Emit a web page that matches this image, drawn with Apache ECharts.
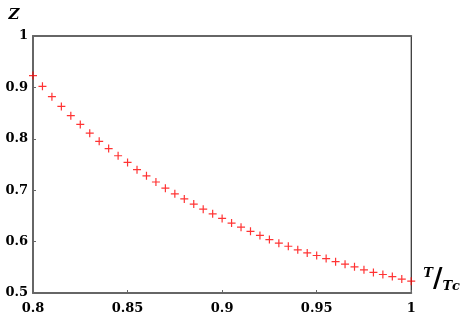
<!DOCTYPE html>
<html>
<head>
<meta charset="utf-8">
<script src="https://cdn.jsdelivr.net/npm/echarts@6/dist/echarts.min.js"></script>
<style>
  html, body { margin: 0; padding: 0; background: #fff; }
  #chart { width: 463px; height: 320px; }
</style>
</head>
<body>
<div id="chart"></div>
<script>
  // T/Tc values, step 0.005
  const tRatio = [0.800, 0.805, 0.810, 0.815, 0.820, 0.825, 0.830, 0.835, 0.840, 0.845,
                  0.850, 0.855, 0.860, 0.865, 0.870, 0.875, 0.880, 0.885, 0.890, 0.895,
                  0.900, 0.905, 0.910, 0.915, 0.920, 0.925, 0.930, 0.935, 0.940, 0.945,
                  0.950, 0.955, 0.960, 0.965, 0.970, 0.975, 0.980, 0.985, 0.990, 0.995, 1.000]
  // Z
  const zValues = [0.923, 0.902, 0.882, 0.863, 0.845, 0.828, 0.811, 0.795, 0.781, 0.767,
                   0.754, 0.740, 0.728, 0.716, 0.704, 0.693, 0.683, 0.673, 0.663, 0.654,
                   0.645, 0.636, 0.628, 0.620, 0.612, 0.604, 0.597, 0.591, 0.584, 0.578,
                   0.573, 0.567, 0.561, 0.556, 0.551, 0.545, 0.540, 0.536, 0.532, 0.527, 0.523]
  const xTicks = [0.8, 0.85, 0.9, 0.95, 1]
  const yTicks = [0.5, 0.6, 0.7, 0.8, 0.9, 1]

  const points = tRatio.map((t, i) => [t, zValues[i]])
  const labelFont = { fontFamily: 'DejaVu Serif', fontWeight: 'bold', fontSize: 13, color: '#000' }
  const plus = 'path://M0,3.4H8V4.6H0Z M3.4,0H4.6V8H3.4Z'

  let chart = echarts.init(document.getElementById('chart'))
  chart.setOption({
    animation: false,
    grid: { left: 33, right: 49, top: 36, bottom: 27, show: true, borderColor: '#000', borderWidth: 1 },
    xAxis: [{
      type: 'value',
      min: xTicks[0], max: xTicks[xTicks.length - 1], interval: 0.05,
      axisLine: { lineStyle: { color: '#666', width: 2 } },
      axisTick: { inside: true, length: 3, lineStyle: { color: '#666' } },
      axisLabel: Object.assign({ margin: 9 }, labelFont),
      splitLine: { show: false },
      name: '{a|T}{s|/}{b|T}{c|c}',
      nameLocation: 'end',
      nameGap: 12,
      nameTextStyle: {
        verticalAlign: 'bottom',
        rich: {
          a: { fontFamily: 'DejaVu Serif', fontStyle: 'italic', fontWeight: 'bold', fontSize: 13, verticalAlign: 'top', color: '#000' },
          s: { fontFamily: 'DejaVu Sans', fontWeight: 'bold', fontSize: 26, color: '#000' },
          b: { fontFamily: 'DejaVu Serif', fontStyle: 'italic', fontWeight: 'bold', fontSize: 13, verticalAlign: 'bottom', color: '#000' },
          c: { fontFamily: 'DejaVu Serif', fontStyle: 'italic', fontWeight: 'bold', fontSize: 13, verticalAlign: 'bottom', color: '#000' }
        }
      }
    }, {
      type: 'value',
      position: 'top',
      min: xTicks[0], max: xTicks[xTicks.length - 1],
      axisLine: { show: true, lineStyle: { color: '#666', width: 2 } },
      axisTick: { show: false },
      axisLabel: { show: false },
      splitLine: { show: false }
    }],
    yAxis: {
      type: 'value',
      min: yTicks[0], max: yTicks[yTicks.length - 1], interval: 0.1,
      axisLine: { show: true, lineStyle: { color: '#666', width: 2 } },
      axisTick: { show: true, inside: true, length: 3, lineStyle: { color: '#666' } },
      axisLabel: Object.assign({ margin: 5 }, labelFont),
      splitLine: { show: false },
      name: 'Z',
      nameLocation: 'end',
      nameGap: 13,
      nameTextStyle: {
        fontFamily: 'DejaVu Serif', fontStyle: 'italic', fontWeight: 'bold', fontSize: 15, color: '#000',
        align: 'center', padding: [0, 38, 0, 0]
      }
    },
    series: [{
      type: 'scatter',
      data: points,
      symbol: plus,
      symbolSize: 8,
      itemStyle: { color: '#ff0000' }
    }]
  })
</script>
</body>
</html>
